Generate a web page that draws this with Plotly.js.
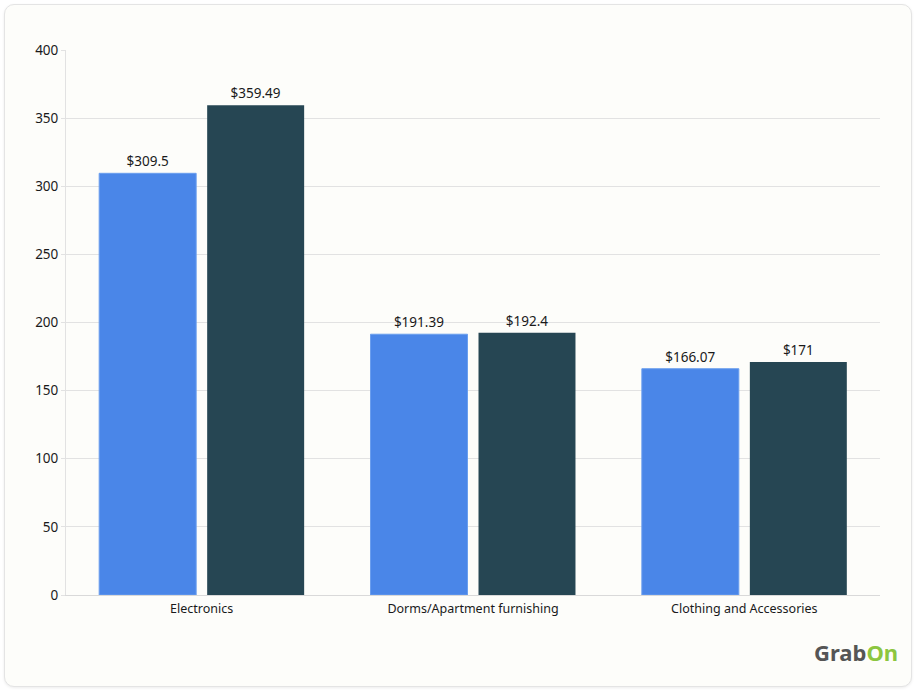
<!DOCTYPE html>
<html>
<head>
<meta charset="utf-8">
<script src="https://cdn.plot.ly/plotly-3.0.1.min.js"></script>
<style>
  html, body { margin: 0; padding: 0; background: #ffffff; width: 917px; height: 691px; overflow: hidden; }
  #card { position: absolute; left: 4px; top: 4px; width: 906px; height: 681px; border: 1px solid #e4e4e4; border-radius: 10px; background: #fdfdfa; box-shadow: 0 1px 3px rgba(0,0,0,0.08); }
  #chart { position: absolute; left: 0; top: 0; width: 917px; height: 691px; }
</style>
</head>
<body>
<div id="card"></div>
<div id="chart"></div>
<script>
const categories = ["Electronics", "Dorms/Apartment furnishing", "Clothing and Accessories"];
const series1Values = [309.5, 191.39, 166.07];
const series2Values = [359.49, 192.4, 171];
const series1Labels = ["$309.5", "$191.39", "$166.07"];
const series2Labels = ["$359.49", "$192.4", "$171"];
const yTickValues = [0, 50, 100, 150, 200, 250, 300, 350, 400];

const font = "'Noto Sans', 'Open Sans', sans-serif";

const traces = [
  {
    type: "bar", x: categories, y: series1Values, text: series1Labels,
    textposition: "outside", cliponaxis: false,
    textfont: { family: font, size: 13.5, color: "#1a1a1a" },
    marker: { color: "#4a86e8", line: { color: "#6a9eee", width: 1 } },
    hoverinfo: "none", showlegend: false
  },
  {
    type: "bar", x: categories, y: series2Values, text: series2Labels,
    textposition: "outside", cliponaxis: false,
    textfont: { family: font, size: 13.5, color: "#1a1a1a" },
    marker: { color: "#264653", line: { color: "#264653", width: 0 } },
    hoverinfo: "none", showlegend: false
  }
];

const layout = {
  width: 917, height: 691,
  margin: { l: 66, r: 37, t: 50, b: 96 },
  paper_bgcolor: "rgba(0,0,0,0)",
  plot_bgcolor: "rgba(0,0,0,0)",
  barmode: "group",
  bargap: 0.204,
  bargroupgap: 0.102,
  font: { family: font, size: 13, color: "#1a1a1a" },
  xaxis: {
    type: "category",
    showgrid: false,
    showline: true, linecolor: "#d9d9d9", linewidth: 1,
    ticks: "", ticklabelstandoff: 2,
    tickfont: { family: font, size: 12.5, color: "#1a1a1a" },
    fixedrange: true
  },
  yaxis: {
    range: [0, 400],
    tickvals: yTickValues,
    showgrid: true, gridcolor: "#e2e2e2", gridwidth: 1,
    zeroline: false,
    showline: true, linecolor: "#e2e2e2", linewidth: 1,
    ticks: "outside", ticklen: 4, tickcolor: "#e2e2e2",
    tickfont: { family: font, size: 13.5, color: "#1a1a1a" },
    fixedrange: true
  },
  annotations: [
    {
      xref: "paper", yref: "paper", x: 1.024, y: -0.105,
      xanchor: "right", yanchor: "middle", showarrow: false,
      text: "<b>Grab<span style='color:#8cc63f'>On</span></b>",
      font: { family: "'Noto Sans', sans-serif", size: 22, color: "#555555" }
    }
  ]
};

Plotly.newPlot("chart", traces, layout, { displayModeBar: false, staticPlot: true });
</script>
</body>
</html>
